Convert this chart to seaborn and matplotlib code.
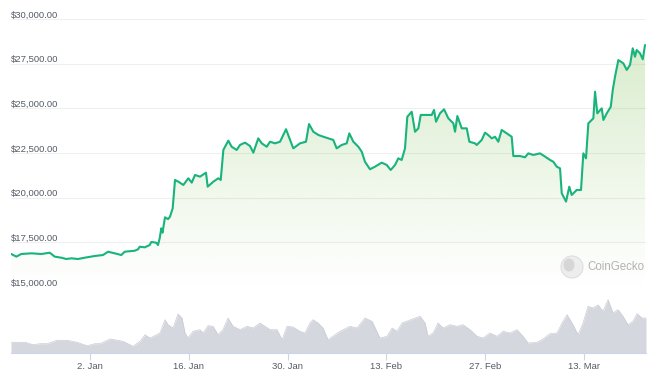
import numpy as np
import pandas as pd
import seaborn as sns
import matplotlib.pyplot as plt
import matplotlib.dates as mdates
from matplotlib.patches import Ellipse
from matplotlib.transforms import offset_copy

start = pd.Timestamp("2022-12-22")

# BTC price: days after 22 Dec 2022 and USD
price_day = [-0.16, 0.55, 1.26, 2.68, 4.10, 5.29, 5.99, 6.93, 7.64, 8.35, 9.30, 10.25,
             11.66, 12.84, 13.55, 14.50, 15.43, 15.91, 17.33, 17.80, 18.04, 18.75, 19.46,
             19.68, 20.39, 20.63, 20.87, 21.10, 21.27, 21.62, 22.05, 22.33, 22.71, 23.04,
             23.51, 24.22, 24.93, 25.41, 25.87, 26.58, 27.43, 27.67, 28.47, 29.18, 29.52,
             29.89, 30.59, 31.07, 31.78, 32.25, 32.96, 33.67, 34.14, 34.84, 35.33, 36.04,
             36.50, 37.21, 37.92, 38.77, 39.34, 39.80, 40.75, 41.60, 42.03, 42.64, 43.35,
             44.06, 44.76, 45.47, 45.95, 46.66, 47.37, 47.74, 48.31, 49.02, 49.50, 49.96,
             50.67, 51.38, 52.33, 53.04, 53.60, 54.22, 54.68, 55.16, 55.63, 55.96, 56.58,
             57.05, 57.52, 57.86, 58.71, 59.42, 59.74, 60.03, 60.59, 61.16, 61.77, 62.48,
             62.72, 63.05, 63.67, 64.38, 64.75, 65.55, 65.79, 66.50, 66.97, 67.44, 67.92,
             68.39, 68.85, 69.33, 70.04, 70.75, 70.98, 71.93, 72.64, 73.10, 73.81, 74.76,
             75.47, 76.18, 76.65, 77.13, 77.60, 77.84, 78.45, 78.91, 79.25, 79.96, 80.57,
             80.90, 81.28, 81.61, 82.32, 82.56, 82.88, 83.51, 83.74, 84.22, 84.79, 85.07,
             85.39, 85.86, 86.57, 87.05, 87.52, 87.90, 88.22, 88.46, 88.93, 89.32, 89.64]
price_usd = [16847, 16700, 16847, 16885, 16847, 16920, 16700, 16640, 16567, 16605, 16567, 16640,
             16735, 16790, 16975, 16885, 16790, 16975, 17030, 17110, 17255, 17220, 17350,
             17520, 17480, 17350, 17730, 18285, 18040, 18900, 18800, 18935, 19405, 20990,
             20895, 20710, 21085, 20840, 21270, 21175, 21400, 20615, 20895, 21085, 20990,
             22670, 23190, 22850, 22670, 22950, 23080, 22890, 22520, 23320, 23040, 22850,
             23130, 23040, 23130, 23830, 23230, 22760, 23040, 23130, 24120, 23690, 23510,
             23410, 23320, 23230, 22760, 22950, 23040, 23600, 23130, 22850, 22570, 22010,
             21590, 21735, 21960, 21830, 21550, 21830, 22200, 22110, 22760, 24530, 24810,
             23690, 23880, 24630, 24630, 24630, 24910, 24250, 24720, 24945, 24440, 24160,
             23690, 24570, 23880, 23880, 23130, 23040, 22950, 23230, 23640, 23500, 23320,
             23410, 23130, 23790, 23600, 23410, 22330, 22330, 22260, 22480, 22390, 22480,
             22300, 22110, 22010, 21735, 21640, 20245, 19780, 20615, 20150, 20430, 20430,
             22480, 22200, 24160, 24440, 25930, 24720, 25000, 24350, 24720, 25090, 26030,
             26770, 27700, 27520, 27150, 27430, 28360, 27890, 28265, 28080, 27745, 28545]

# traded volume underneath (days after 22 Dec 2022, billions USD)
vol_day = [-0.20, 1.79, 2.92, 3.91, 4.90, 6.32, 7.74, 9.15, 10.57, 11.70, 12.41, 13.83,
           15.67, 17.09, 18.08, 18.79, 19.50, 20.91, 21.62, 22.05, 22.76, 23.46, 24.03,
           24.46, 24.88, 25.59, 26.58, 27.01, 27.72, 28.43, 29.13, 29.84, 30.55, 31.26,
           32.25, 33.24, 34.09, 35.08, 35.79, 36.50, 37.49, 38.20, 38.91, 39.76, 40.75,
           41.46, 42.17, 42.60, 43.31, 44.01, 44.72, 46.42, 47.84, 48.83, 49.96, 50.96,
           52.09, 53.08, 53.79, 54.50, 55.21, 56.34, 57.76, 58.47, 58.89, 59.60, 60.31,
           61.02, 62.01, 63.00, 63.85, 64.85, 65.84, 66.69, 67.68, 68.67, 69.52, 70.51,
           71.50, 72.35, 73.06, 74.34, 75.19, 76.18, 77.17, 77.88, 78.59, 79.30, 80.15,
           80.86, 81.57, 82.28, 82.99, 83.69, 84.40, 85.11, 85.82, 86.52, 87.23, 87.94,
           88.51, 89.21, 89.78]
vol_bn = [10.7, 10.7, 8.3, 9.3, 9.3, 12.7, 12.7, 10.7, 7.3, 9.3, 9.3, 14.0,
          11.7, 6.7, 11.7, 18.3, 15.0, 20.0, 33.3, 28.3, 25.0, 39.0, 35.0,
          20.0, 15.0, 21.7, 23.3, 20.0, 27.3, 26.7, 18.3, 23.3, 35.0, 26.7,
          23.3, 26.7, 25.0, 30.0, 26.7, 23.3, 23.3, 13.3, 26.7, 26.0, 21.7,
          20.0, 30.0, 33.3, 30.0, 25.0, 13.3, 21.7, 26.7, 25.0, 35.0, 31.7,
          15.0, 16.7, 25.0, 21.7, 30.0, 33.0, 36.7, 30.0, 16.7, 20.0, 30.0,
          25.0, 28.3, 26.7, 28.3, 23.3, 16.7, 15.0, 20.0, 16.7, 21.7, 20.0,
          23.3, 16.7, 10.0, 10.7, 14.0, 19.3, 20.0, 30.0, 38.3, 30.0, 18.3,
          30.0, 46.7, 45.0, 48.0, 41.7, 53.3, 40.0, 43.3, 36.7, 28.3, 31.7,
          39.3, 35.0, 35.0]

price_ticks = [15000, 17500, 20000, 22500, 25000, 27500, 30000]
date_ticks = ["2023-01-02", "2023-01-16", "2023-01-30", "2023-02-13", "2023-02-27", "2023-03-13"]
date_labels = ["2. Jan", "16. Jan", "30. Jan", "13. Feb", "27. Feb", "13. Mar"]

df = pd.DataFrame({"time": start + pd.to_timedelta(price_day, unit="D"), "price": price_usd})
vol = pd.DataFrame({"time": start + pd.to_timedelta(vol_day, unit="D"), "volume": vol_bn})

sns.set_theme(style="white")
plt.rcParams["font.family"] = ["Liberation Sans", "DejaVu Sans"]

W, H = 658, 375
fig = plt.figure(figsize=(W / 100, H / 100), dpi=100)
ax = fig.add_axes([11 / W, 1 - 287 / H, 635 / W, 268 / H])
axv = fig.add_axes([11 / W, 1 - 353 / H, 635 / W, 63 / H])

xmin = start + pd.Timedelta(days=-0.2)
xmax = start + pd.Timedelta(days=89.78)
x0, x1 = mdates.date2num(xmin), mdates.date2num(xmax)

# light green gradient under the price line
grad = np.zeros((256, 1, 4))
grad[..., :3] = np.array([107, 183, 59]) / 255
grad[..., 3] = np.linspace(0.28, 0.0, 256)[:, None]
img = ax.imshow(grad, extent=[x0, x1, 15000, 30000], aspect="auto", origin="upper", zorder=1)
poly = ax.fill_between(df["time"], df["price"], 15000, color="none", lw=0)
img.set_clip_path(poly.get_paths()[0], ax.transData)

# grid lines and price labels sitting on them
lab_tr = offset_copy(ax.get_yaxis_transform(), fig=fig, y=1.2, units="points")
for v in price_ticks:
    ax.axhline(v, color="#efefef", lw=0.8, zorder=0)
    ax.text(0, v, f"${v:,.2f}", transform=lab_tr, ha="left", va="baseline",
            fontsize=6.8, color="#555b66", zorder=5)

sns.lineplot(data=df, x="time", y="price", ax=ax, color="#19b37c", linewidth=1.5, zorder=3)
ax.set_xlim(x0, x1)
ax.set_ylim(15000, 30000)
ax.axis("off")

# volume
axv.fill_between(vol["time"], vol["volume"], 0, color="#d4d7de", lw=0)
sns.lineplot(data=vol, x="time", y="volume", ax=axv, color="#c8ccd4", linewidth=0.5)
axv.set_xlim(x0, x1)
axv.set_ylim(0, 63)
axv.set_xlabel("")
axv.set_ylabel("")
axv.set_yticks([])
for s in ["top", "left", "right"]:
    axv.spines[s].set_visible(False)
axv.spines["bottom"].set_color("#ccd6eb")
axv.spines["bottom"].set_linewidth(0.8)
axv.set_xticks(mdates.date2num(pd.to_datetime(date_ticks)))
axv.set_xticklabels(date_labels)
axv.tick_params(axis="x", bottom=True, length=5, width=0.8, color="#ccd6eb",
                labelsize=6.8, labelcolor="#555b66", pad=1.5)

# CoinGecko watermark
fig.patches.append(Ellipse((572 / W, 1 - 267 / H), 22 / W, 22 / H, transform=fig.transFigure,
                           facecolor="#ededed", edgecolor="#dedede", lw=0.8, zorder=6))
fig.patches.append(Ellipse((569 / W, 1 - 265 / H), 11 / W, 13 / H, transform=fig.transFigure,
                           facecolor="#d6d6d6", edgecolor="none", zorder=7))
fig.text(587 / W, 1 - 267 / H, "CoinGecko", ha="left", va="center", fontsize=8.3,
         color="#b3b3b3", zorder=8)

fig.savefig("out.png", dpi=100)
